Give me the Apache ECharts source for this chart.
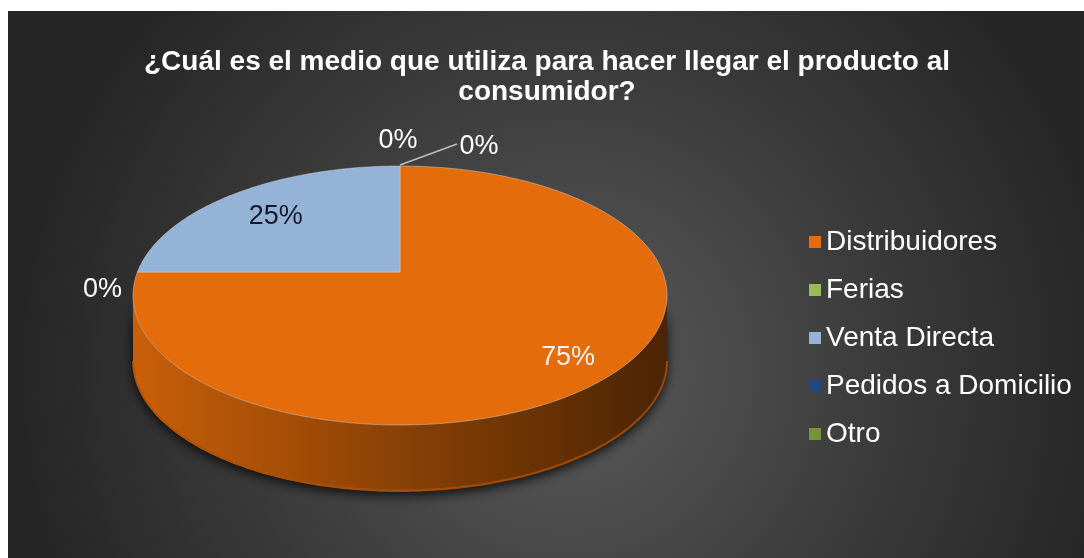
<!DOCTYPE html>
<html>
<head>
<meta charset="utf-8">
<script src="https://cdn.jsdelivr.net/npm/echarts@6/dist/echarts.min.js"></script>
<style>
  html, body { margin: 0; padding: 0; background: #ffffff; }
  #chart { width: 1084px; height: 558px; }
</style>
</head>
<body>
<div id="chart"></div>
<script>
// Survey answers: channel used to bring the product to the consumer
const chartTitle = '¿Cuál es el medio que utiliza para hacer llegar el producto al\nconsumidor?';
const categories = ['Distribuidores', 'Ferias', 'Venta Directa', 'Pedidos a Domicilio', 'Otro'];
const shares = [75, 0, 25, 0, 0];

// Office-style palette for the five channels
const palette = ['#E46C0A', '#9BBB59', '#95B3D7', '#1F497D', '#77933C'];
const labelColors = ['#f2f2f2', '#ffffff', '#16182a', '#ffffff', '#ffffff'];

// Geometry of the tilted pie (top face is a perspective ellipse)
const G = { cx: 400, ay: 272, cy: 295.5, rx: 267, ry: 129.5, depth: 67, k: 0.485,
            labelFrac: 0.78, labelDx: 3, labelDy: 6 };
// Where the labels of empty slices sit, relative to their edge point
const outsideLabel = {
  1: { dx: -35, dy: 18, leader: false },
  3: { dx: -2, dy: -25, leader: false },
  4: { dx: 79, dy: -19, leader: true }
};

const total = shares.reduce((a, b) => a + b, 0);

function hit(theta) {
  const dx = Math.cos(theta), dy = -Math.sin(theta) * G.k;
  const u = (G.ay - G.cy) / G.ry;
  const a = (dx / G.rx) ** 2 + (dy / G.ry) ** 2;
  const b = 2 * u * dy / G.ry;
  const c = u * u - 1;
  const t = (-b + Math.sqrt(b * b - 4 * a * c)) / (2 * a);
  return [G.cx + t * dx, G.ay + t * dy];
}
function phiOf(p) { return Math.atan2(-(p[1] - G.cy) / G.ry, (p[0] - G.cx) / G.rx); }
function ell(phi, off) { return [G.cx + G.rx * Math.cos(phi), G.cy - G.ry * Math.sin(phi) + (off || 0)]; }
function arc(from, to, off) {
  const n = Math.max(2, Math.ceil(Math.abs(to - from) / 0.015));
  const pts = [];
  for (let j = 0; j <= n; j++) pts.push(ell(from + (to - from) * j / n, off));
  return pts;
}
function shade(hex, f) {
  const n = parseInt(hex.slice(1), 16);
  const r = Math.round(((n >> 16) & 255) * f), g = Math.round(((n >> 8) & 255) * f), b = Math.round((n & 255) * f);
  return 'rgb(' + r + ',' + g + ',' + b + ')';
}

function makeRenderer(idx) {
  return function (params, api) {
    const value = api.value(0);
    const base = palette[idx];
    let cum = 0;
    for (let j = 0; j < idx; j++) cum += shares[j];
    const t0 = Math.PI / 2 - 2 * Math.PI * cum / total;
    const t1 = t0 - 2 * Math.PI * value / total;
    const children = [];
    const pct = Math.round(value / total * 100) + '%';
    const font = '27px "Liberation Sans", Arial, sans-serif';

    if (value > 0) {
      const ps = phiOf(hit(t0));
      let pe = phiOf(hit(t1));
      if (value >= total) pe = ps - 2 * Math.PI;
      while (pe >= ps) pe -= 2 * Math.PI;

      // front wall of the slice
      for (let m = -1; m <= 1; m++) {
        const lo = Math.max(pe, -Math.PI + 2 * Math.PI * m);
        const hi = Math.min(ps, 2 * Math.PI * m);
        if (hi > lo) {
          const pts = arc(hi, lo, 0).concat(arc(lo, hi, G.depth));
          children.push({
            type: 'polygon', z2: 1,
            shape: { points: pts },
            style: {
              fill: {
                type: 'linear', global: true, x: G.cx - G.rx, y: 0, x2: G.cx + G.rx, y2: 0,
                colorStops: [
                  { offset: 0, color: shade(base, 0.88) },
                  { offset: 0.5, color: shade(base, 0.6) },
                  { offset: 1, color: shade(base, 0.33) }
                ]
              },
              shadowBlur: 12, shadowColor: 'rgba(0,0,0,0.85)', shadowOffsetY: 3
            }
          });
          children.push({
            type: 'polyline', z2: 2,
            shape: { points: arc(lo, hi, G.depth - 1.5) },
            style: { stroke: shade(base, 0.75), lineWidth: 2, fill: null, opacity: 0.8 }
          });
        }
      }
      // top face
      const top = [[G.cx, G.ay]].concat(arc(ps, pe, 0));
      children.push({
        type: 'polygon', z2: 10,
        shape: { points: top },
        style: { fill: base, stroke: 'rgba(220,220,220,0.45)', lineWidth: 1 }
      });
      const tm = (t0 + t1) / 2;
      const e = hit(tm);
      children.push({
        type: 'text', z2: 30,
        x: G.cx + (e[0] - G.cx) * G.labelFrac + G.labelDx,
        y: G.ay + (e[1] - G.ay) * G.labelFrac + G.labelDy,
        style: { text: pct, fill: labelColors[idx], font: font, align: 'center', verticalAlign: 'middle' }
      });
    } else {
      const e = hit(t0);
      const o = outsideLabel[idx] || { dx: 0, dy: -25, leader: false };
      if (o.leader) {
        children.push({
          type: 'polyline', z2: 25,
          shape: { points: [[e[0], e[1] - 1], [e[0] + o.dx - 22, e[1] + o.dy - 3]] },
          style: { stroke: '#bfbfbf', lineWidth: 1.5, fill: null }
        });
      }
      children.push({
        type: 'text', z2: 30,
        x: e[0] + o.dx, y: e[1] + o.dy,
        style: { text: pct, fill: labelColors[idx], font: font, align: 'center', verticalAlign: 'middle' }
      });
    }
    return { type: 'group', children: children };
  };
}

const chart = echarts.init(document.getElementById('chart'), null, { renderer: 'canvas' });
chart.setOption({
  animation: false,
  backgroundColor: '#ffffff',
  graphic: [{
    type: 'rect', z: -10, silent: true,
    shape: { x: 8, y: 11, width: 1076, height: 547 },
    style: {
      fill: {
        type: 'radial', x: 0.52, y: 0.66, r: 1.0,
        colorStops: [
          { offset: 0, color: '#5b5b5b' },
          { offset: 0.55, color: '#3c3c3c' },
          { offset: 1, color: '#262626' }
        ]
      }
    }
  }],
  title: {
    text: chartTitle,
    left: 547, top: 47, textAlign: 'center', padding: 0,
    textStyle: { color: '#ffffff', fontSize: 28, fontWeight: 'bold', fontFamily: '"Liberation Sans", Arial, sans-serif', lineHeight: 30 }
  },
  legend: {
    orient: 'vertical', left: 804, top: 222,
    icon: 'rect', itemWidth: 12, itemHeight: 12, itemGap: 18,
    selectedMode: false,
    data: categories,
    textStyle: { color: '#ffffff', fontSize: 28, fontFamily: '"Liberation Sans", Arial, sans-serif', lineHeight: 30 }
  },
  series: categories.map((name, i) => ({
    type: 'custom',
    name: name,
    coordinateSystem: 'none',
    itemStyle: { color: palette[i] },
    renderItem: makeRenderer(i),
    data: [[shares[i]]]
  }))
});
</script>
</body>
</html>
